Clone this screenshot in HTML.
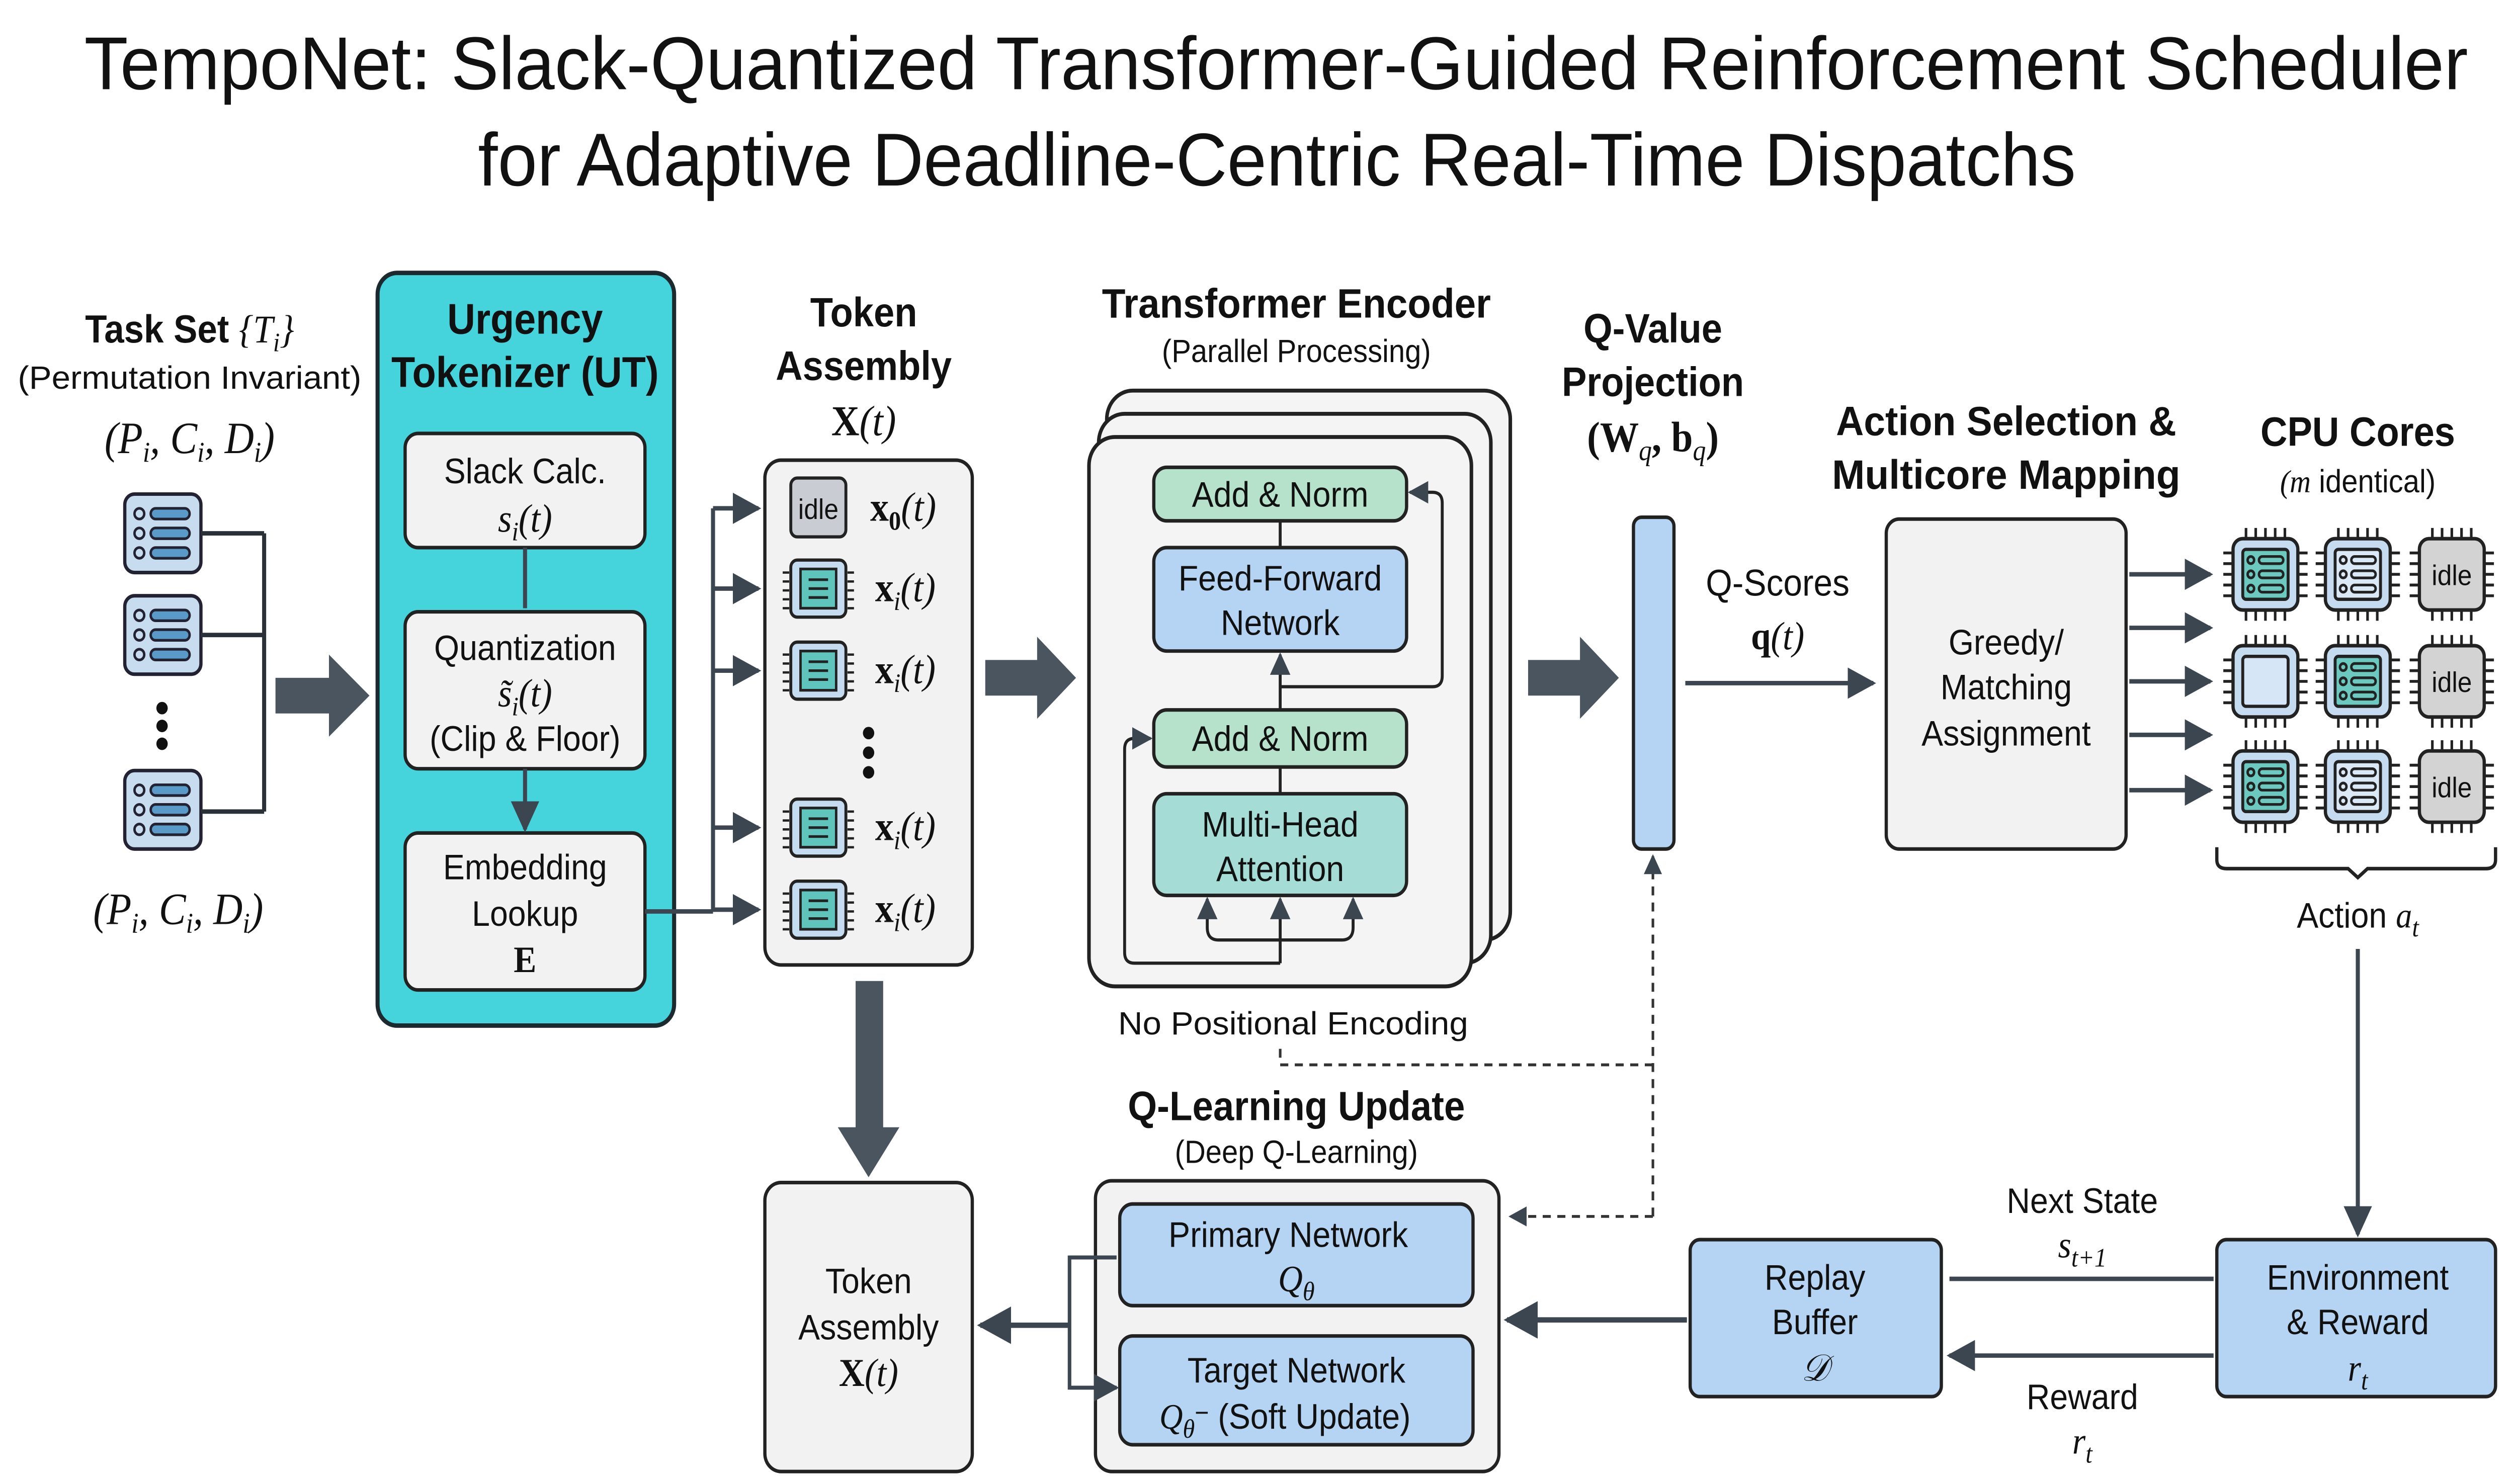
<!DOCTYPE html>
<html><head><meta charset="utf-8"><style>
html,body{margin:0;padding:0;background:#fff;width:100vw;height:100vh;overflow:hidden}
svg{display:block;position:fixed;left:0;top:0;width:100vw;height:100vh}
text{font-family:"Liberation Sans",sans-serif;fill:#111}
.b{font-weight:bold}
.m{font-family:"Liberation Serif",serif;font-style:italic}
.mb{font-family:"Liberation Serif",serif;font-weight:bold}
</style></head><body>
<svg viewBox="0 0 1552 832" preserveAspectRatio="none" xmlns="http://www.w3.org/2000/svg">
<defs>
<marker id="ahs" viewBox="0 0 10 10" refX="9" refY="5" markerWidth="7" markerHeight="7" orient="auto"><path d="M0,0L10,5L0,10z" fill="#3c4650"/></marker>
<g id="task"><rect x="0" y="0" width="47" height="44" rx="6" fill="#c8dcf0" stroke="#223" stroke-width="2"/>
<circle cx="9" cy="11" r="3" fill="none" stroke="#223" stroke-width="1.5"/><circle cx="9" cy="22" r="3" fill="none" stroke="#223" stroke-width="1.5"/><circle cx="9" cy="33" r="3" fill="none" stroke="#223" stroke-width="1.5"/>
<rect x="16" y="8" width="24" height="6" rx="3" fill="#5a9ac8" stroke="#223" stroke-width="1.5"/><rect x="16" y="19" width="24" height="6" rx="3" fill="#5a9ac8" stroke="#223" stroke-width="1.5"/><rect x="16" y="30" width="24" height="6" rx="3" fill="#5a9ac8" stroke="#223" stroke-width="1.5"/></g>
<g id="pins" stroke="#222" stroke-width="1.6">
<path d="M-12,-20v-6M-6,-20v-6M0,-20v-6M6,-20v-6M12,-20v-6M-12,20v6M-6,20v6M0,20v6M6,20v6M12,20v6M-20,-12h-6M-20,-6h-6M-20,0h-6M-20,6h-6M-20,12h-6M20,-12h6M20,-6h6M20,0h6M20,6h6M20,12h6"/></g>
<g id="lines" stroke="#222" stroke-width="1.5" fill="none"><circle cx="-9" cy="-8" r="2"/><circle cx="-9" cy="0" r="2"/><circle cx="-9" cy="8" r="2"/><rect x="-4" y="-10" width="15" height="4" rx="2"/><rect x="-4" y="-2" width="15" height="4" rx="2"/><rect x="-4" y="6" width="15" height="4" rx="2"/></g>
<g id="chipA"><use href="#pins"/><rect x="-20" y="-20" width="40" height="40" rx="6" fill="#c5dcf0" stroke="#222" stroke-width="2"/><rect x="-14" y="-14" width="28" height="28" rx="2" fill="#6cc9c0" stroke="#222" stroke-width="1.8"/><use href="#lines"/></g>
<g id="chipB"><use href="#pins"/><rect x="-20" y="-20" width="40" height="40" rx="6" fill="#c5dcf0" stroke="#222" stroke-width="2"/><rect x="-14" y="-14" width="28" height="28" rx="2" fill="#dbe8f6" stroke="#222" stroke-width="1.8"/><use href="#lines"/></g>
<g id="chipE"><use href="#pins"/><rect x="-20" y="-20" width="40" height="40" rx="6" fill="#c5dcf0" stroke="#222" stroke-width="2"/><rect x="-14" y="-14" width="28" height="28" rx="2" fill="#d6e6f6" stroke="#222" stroke-width="1.8"/></g>
<g id="chipI"><use href="#pins"/><rect x="-20" y="-20" width="40" height="40" rx="6" fill="#d3d3d3" stroke="#222" stroke-width="2"/><text x="0" y="6" text-anchor="middle" font-size="16">idle</text></g>
<g id="tok"><g stroke="#222" stroke-width="1.3"><path d="M-18,-9h-4M-18,-4h-4M-18,1h-4M-18,6h-4M-18,11h-4M18,-9h4M18,-4h4M18,1h4M18,6h4M18,11h4"/></g><rect x="-17" y="-16" width="34" height="32" rx="4" fill="#c5dcf0" stroke="#222" stroke-width="1.8"/><rect x="-11" y="-11" width="22" height="22" fill="#5fc4bc" stroke="#222" stroke-width="1.5"/><path d="M-6,-5h12M-6,0h12M-6,5h12" stroke="#222" stroke-width="1.5"/></g>
</defs>
<rect width="1552" height="832" fill="#fff"/>
<!-- title -->
<text x="52" y="50" font-size="42" textLength="1471" lengthAdjust="spacingAndGlyphs">TempoNet: Slack-Quantized Transformer-Guided Reinforcement Scheduler</text>
<text x="295" y="104" font-size="42" textLength="986" lengthAdjust="spacingAndGlyphs">for Adaptive Deadline-Centric Real-Time Dispatchs</text>

<!-- task set -->
<text x="117" y="192" text-anchor="middle" font-size="22" class="b">Task Set <tspan class="m" font-weight="normal">{T</tspan><tspan class="m" font-weight="normal" font-size="15" dy="5">i</tspan><tspan class="m" font-weight="normal" dy="-5">}</tspan></text>
<text x="117" y="218" text-anchor="middle" font-size="18" textLength="212" lengthAdjust="spacingAndGlyphs">(Permutation Invariant)</text>
<text x="117" y="254" text-anchor="middle" font-size="25" class="m">(P<tspan font-size="16" dy="5">i</tspan><tspan dy="-5">, C</tspan><tspan font-size="16" dy="5">i</tspan><tspan dy="-5">, D</tspan><tspan font-size="16" dy="5">i</tspan><tspan dy="-5">)</tspan></text>
<use href="#task" x="77" y="277"/><use href="#task" x="77" y="334"/><use href="#task" x="77" y="432"/>
<circle cx="100" cy="397" r="3.5" fill="#111"/><circle cx="100" cy="407" r="3.5" fill="#111"/><circle cx="100" cy="417" r="3.5" fill="#111"/>
<path d="M124,299H163M124,356H163M124,455H163M163,299V455" stroke="#2a3038" stroke-width="2.5" fill="none"/>
<text x="110" y="518" text-anchor="middle" font-size="25" class="m">(P<tspan font-size="16" dy="5">i</tspan><tspan dy="-5">, C</tspan><tspan font-size="16" dy="5">i</tspan><tspan dy="-5">, D</tspan><tspan font-size="16" dy="5">i</tspan><tspan dy="-5">)</tspan></text>
<!-- big arrows -->
<path d="M170,380H203V367L228,390L203,413V400H170z" fill="#4a5560"/>
<path d="M608,370H640V357L664,380L640,403V390H608z" fill="#4a5560"/>
<path d="M943,370H975V357L999,380L975,403V390H943z" fill="#4a5560"/>
<path d="M528,550H545V632H555L536,660L517,632H528z" fill="#4a5560"/>

<!-- UT -->
<rect x="233" y="153" width="183" height="422" rx="12" fill="#45d3dc" stroke="#1c2a30" stroke-width="2.5"/>
<text x="324" y="187" text-anchor="middle" font-size="24" class="b">Urgency</text>
<text x="324" y="217" text-anchor="middle" font-size="24" class="b" textLength="165" lengthAdjust="spacingAndGlyphs">Tokenizer (UT)</text>
<rect x="250" y="243" width="148" height="64" rx="8" fill="#f2f2f2" stroke="#222" stroke-width="2"/>
<text x="324" y="271" text-anchor="middle" font-size="20">Slack Calc.</text>
<text x="324" y="298" text-anchor="middle" font-size="22" class="m">s<tspan font-size="15" dy="5">i</tspan><tspan dy="-5">(t)</tspan></text>
<rect x="250" y="343" width="148" height="88" rx="8" fill="#f2f2f2" stroke="#222" stroke-width="2"/>
<text x="324" y="370" text-anchor="middle" font-size="20">Quantization</text>
<text x="324" y="396" text-anchor="middle" font-size="22" class="m">s̃<tspan font-size="15" dy="5">i</tspan><tspan dy="-5">(t)</tspan></text>
<text x="324" y="421" text-anchor="middle" font-size="20">(Clip &amp; Floor)</text>
<rect x="250" y="467" width="148" height="88" rx="8" fill="#f2f2f2" stroke="#222" stroke-width="2"/>
<text x="324" y="493" text-anchor="middle" font-size="20">Embedding</text>
<text x="324" y="519" text-anchor="middle" font-size="20">Lookup</text>
<text x="324" y="545" text-anchor="middle" font-size="21" class="mb">E</text>
<path d="M324,307V341M324,431V465" stroke="#3c4650" stroke-width="2.5" marker-end="url(#ahs)"/>
<!-- connectors to token -->
<path d="M398,511H440M440,285V511" stroke="#3c4650" stroke-width="2.5" fill="none"/>
<g stroke="#3c4650" stroke-width="2.5" marker-end="url(#ahs)"><path d="M440,285H468"/><path d="M440,330H468"/><path d="M440,376H468"/><path d="M440,464H468"/><path d="M440,510H468"/></g>

<!-- token assembly -->
<text x="533" y="183" text-anchor="middle" font-size="23" class="b">Token</text>
<text x="533" y="213" text-anchor="middle" font-size="23" class="b">Assembly</text>
<text x="533" y="244" text-anchor="middle" font-size="24" class="mb">X<tspan class="m" font-weight="normal">(t)</tspan></text>
<rect x="472" y="258" width="128" height="283" rx="10" fill="#f2f2f2" stroke="#222" stroke-width="2"/>
<rect x="488" y="268" width="34" height="33" rx="4" fill="#c9cdd3" stroke="#222" stroke-width="1.8"/>
<text x="505" y="291" text-anchor="middle" font-size="16">idle</text>
<use href="#tok" x="505" y="330"/><use href="#tok" x="505" y="376"/><use href="#tok" x="505" y="464"/><use href="#tok" x="505" y="510"/>
<g font-size="23"><text x="537" y="292" class="mb">x<tspan font-size="15" dy="5">0</tspan><tspan class="m" font-weight="normal" dy="-5">(t)</tspan></text>
<text x="540" y="337" class="mb">x<tspan class="m" font-weight="normal" font-size="15" dy="5">i</tspan><tspan class="m" font-weight="normal" dy="-5">(t)</tspan></text>
<text x="540" y="383" class="mb">x<tspan class="m" font-weight="normal" font-size="15" dy="5">i</tspan><tspan class="m" font-weight="normal" dy="-5">(t)</tspan></text>
<text x="540" y="471" class="mb">x<tspan class="m" font-weight="normal" font-size="15" dy="5">i</tspan><tspan class="m" font-weight="normal" dy="-5">(t)</tspan></text>
<text x="540" y="517" class="mb">x<tspan class="m" font-weight="normal" font-size="15" dy="5">i</tspan><tspan class="m" font-weight="normal" dy="-5">(t)</tspan></text></g>
<circle cx="536" cy="411" r="3.5" fill="#111"/><circle cx="536" cy="422" r="3.5" fill="#111"/><circle cx="536" cy="433" r="3.5" fill="#111"/>

<!-- transformer -->
<text x="800" y="178" text-anchor="middle" font-size="23" class="b" textLength="240" lengthAdjust="spacingAndGlyphs">Transformer Encoder</text>
<text x="800" y="203" text-anchor="middle" font-size="18">(Parallel Processing)</text>
<rect x="683" y="219" width="249" height="308" rx="16" fill="#f4f4f4" stroke="#222" stroke-width="2.2"/>
<rect x="678" y="232" width="242" height="308" rx="16" fill="#f4f4f4" stroke="#222" stroke-width="2.2"/>
<rect x="672" y="245" width="236" height="308" rx="16" fill="#f4f4f4" stroke="#222" stroke-width="2.2"/>
<rect x="712" y="262" width="156" height="30" rx="8" fill="#b6e2cc" stroke="#222" stroke-width="2"/>
<text x="790" y="284" text-anchor="middle" font-size="20">Add &amp; Norm</text>
<rect x="712" y="307" width="156" height="58" rx="8" fill="#b5d3f2" stroke="#222" stroke-width="2"/>
<text x="790" y="331" text-anchor="middle" font-size="20">Feed-Forward</text>
<text x="790" y="356" text-anchor="middle" font-size="20">Network</text>
<rect x="712" y="398" width="156" height="32" rx="8" fill="#b6e2cc" stroke="#222" stroke-width="2"/>
<text x="790" y="421" text-anchor="middle" font-size="20">Add &amp; Norm</text>
<rect x="712" y="445" width="156" height="57" rx="8" fill="#a5dcd6" stroke="#222" stroke-width="2"/>
<text x="790" y="469" text-anchor="middle" font-size="20">Multi-Head</text>
<text x="790" y="494" text-anchor="middle" font-size="20">Attention</text>
<g stroke="#222" stroke-width="1.8" fill="none">
<path d="M790,292V307M790,430V445"/>
<path d="M790,398V367" marker-end="url(#ahs)"/>
<path d="M790,385H884Q890,385 890,379V282Q890,276 884,276H870" marker-end="url(#ahs)"/>
<path d="M790,540H700Q694,540 694,534V420Q694,414 700,414H710" marker-end="url(#ahs)"/>
<path d="M790,540V504" marker-end="url(#ahs)"/>
<path d="M790,527H752Q745,527 745,520V504" marker-end="url(#ahs)"/>
<path d="M790,527H828Q835,527 835,520V504" marker-end="url(#ahs)"/>
</g>
<text x="798" y="580" text-anchor="middle" font-size="18" textLength="216" lengthAdjust="spacingAndGlyphs">No Positional Encoding</text>

<!-- Q projection -->
<text x="1020" y="192" text-anchor="middle" font-size="23" class="b">Q-Value</text>
<text x="1020" y="222" text-anchor="middle" font-size="23" class="b">Projection</text>
<text x="1020" y="253" text-anchor="middle" font-size="24" class="mb">(W<tspan class="m" font-weight="normal" font-size="16" dy="5">q</tspan><tspan dy="-5">, b</tspan><tspan class="m" font-weight="normal" font-size="16" dy="5">q</tspan><tspan dy="-5">)</tspan></text>
<rect x="1008" y="290" width="25" height="186" rx="5" fill="#b5d3f2" stroke="#222" stroke-width="2"/>
<text x="1097" y="334" text-anchor="middle" font-size="21">Q-Scores</text>
<text x="1097" y="364" text-anchor="middle" font-size="22" class="mb">q<tspan class="m" font-weight="normal">(t)</tspan></text>
<path d="M1040,383H1156" stroke="#3c4650" stroke-width="2.5" marker-end="url(#ahs)"/>

<!-- Action selection -->
<text x="1238" y="244" text-anchor="middle" font-size="23" class="b" textLength="210" lengthAdjust="spacingAndGlyphs">Action Selection &amp;</text>
<text x="1238" y="274" text-anchor="middle" font-size="23" class="b" textLength="215" lengthAdjust="spacingAndGlyphs">Multicore Mapping</text>
<rect x="1164" y="291" width="148" height="185" rx="8" fill="#f2f2f2" stroke="#222" stroke-width="2"/>
<text x="1238" y="367" text-anchor="middle" font-size="20">Greedy/</text>
<text x="1238" y="392" text-anchor="middle" font-size="20">Matching</text>
<text x="1238" y="418" text-anchor="middle" font-size="20">Assignment</text>
<g stroke="#3c4650" stroke-width="2.5" marker-end="url(#ahs)"><path d="M1314,322H1364"/><path d="M1314,352H1364"/><path d="M1314,382H1364"/><path d="M1314,412H1364"/><path d="M1314,443H1364"/></g>

<!-- CPU cores -->
<text x="1455" y="250" text-anchor="middle" font-size="23" class="b">CPU Cores</text>
<text x="1455" y="276" text-anchor="middle" font-size="18"><tspan class="m">(m</tspan> identical)</text>
<use href="#chipA" x="1398" y="322"/><use href="#chipB" x="1455" y="322"/><use href="#chipI" x="1513" y="322"/>
<use href="#chipE" x="1398" y="382"/><use href="#chipA" x="1455" y="382"/><use href="#chipI" x="1513" y="382"/>
<use href="#chipA" x="1398" y="441"/><use href="#chipB" x="1455" y="441"/><use href="#chipI" x="1513" y="441"/>
<path d="M1368,475V482Q1368,487 1374,487H1449L1455,492L1461,487H1534Q1540,487 1540,482V475" stroke="#222" stroke-width="2" fill="none"/>
<text x="1455" y="520" text-anchor="middle" font-size="20">Action <tspan class="m">a</tspan><tspan class="m" font-size="15" dy="5">t</tspan></text>
<path d="M1455,532V692" stroke="#3c4650" stroke-width="2.5" marker-end="url(#ahs)"/>

<!-- Env & replay -->
<rect x="1368" y="695" width="172" height="88" rx="6" fill="#b5d3f2" stroke="#222" stroke-width="2"/>
<text x="1455" y="723" text-anchor="middle" font-size="20">Environment</text>
<text x="1455" y="748" text-anchor="middle" font-size="20">&amp; Reward</text>
<text x="1455" y="774" text-anchor="middle" font-size="21" class="m">r<tspan font-size="15" dy="5">t</tspan></text>
<rect x="1043" y="695" width="155" height="88" rx="6" fill="#b5d3f2" stroke="#222" stroke-width="2"/>
<text x="1120" y="723" text-anchor="middle" font-size="20">Replay</text>
<text x="1120" y="748" text-anchor="middle" font-size="20">Buffer</text>
<text x="1120" y="774" text-anchor="middle" font-size="21" class="m">𝒟</text>
<path d="M1366,717H1203M1366,760H1203" stroke="#3c4650" stroke-width="2.5" marker-end="url(#ahs)"/>
<text x="1285" y="680" text-anchor="middle" font-size="20">Next State</text>
<text x="1285" y="705" text-anchor="middle" font-size="21" class="m">s<tspan font-size="15" dy="5">t+1</tspan></text>
<text x="1285" y="790" text-anchor="middle" font-size="20">Reward</text>
<text x="1285" y="815" text-anchor="middle" font-size="21" class="m">r<tspan font-size="15" dy="5">t</tspan></text>
<path d="M1041,740H930" stroke="#3c4650" stroke-width="3" marker-end="url(#ahs)"/>

<!-- Q-learning -->
<text x="800" y="628" text-anchor="middle" font-size="23" class="b" textLength="208" lengthAdjust="spacingAndGlyphs">Q-Learning Update</text>
<text x="800" y="652" text-anchor="middle" font-size="18">(Deep Q-Learning)</text>
<rect x="676" y="662" width="249" height="163" rx="10" fill="#f2f2f2" stroke="#222" stroke-width="2"/>
<rect x="691" y="675" width="218" height="57" rx="8" fill="#b5d3f2" stroke="#222" stroke-width="2"/>
<text x="795" y="699" text-anchor="middle" font-size="20">Primary Network</text>
<text x="800" y="724" text-anchor="middle" font-size="21" class="m">Q<tspan font-size="15" dy="5">θ</tspan></text>
<rect x="691" y="749" width="218" height="61" rx="8" fill="#b5d3f2" stroke="#222" stroke-width="2"/>
<text x="800" y="775" text-anchor="middle" font-size="20">Target Network</text>
<text x="793" y="801" text-anchor="middle" font-size="20"><tspan class="m">Q</tspan><tspan class="m" font-size="15" dy="5">θ</tspan><tspan font-size="15" dy="-9">−</tspan><tspan dy="4"> (Soft Update)</tspan></text>
<path d="M689,705H660V778H689" stroke="#3c4650" stroke-width="2.2" fill="none"/>
<path d="M660,705H689M660,778H689" stroke="#3c4650" stroke-width="2.2" marker-end="url(#ahs)"/>
<path d="M660,743H605" stroke="#3c4650" stroke-width="3" marker-end="url(#ahs)"/>
<rect x="472" y="663" width="128" height="162" rx="10" fill="#f2f2f2" stroke="#222" stroke-width="2"/>
<text x="536" y="725" text-anchor="middle" font-size="20">Token</text>
<text x="536" y="751" text-anchor="middle" font-size="20">Assembly</text>
<text x="536" y="777" text-anchor="middle" font-size="22" class="mb">X<tspan class="m" font-weight="normal">(t)</tspan></text>

<!-- dashed -->
<path d="M790,588V597H1020M1020,682V482" stroke="#333" stroke-width="1.6" stroke-dasharray="5,4" fill="none"/>
<path d="M1020,490V480" stroke="#333" stroke-width="1.6" marker-end="url(#ahs)"/>
<path d="M1020,682H932" stroke="#333" stroke-width="1.6" stroke-dasharray="5,4" marker-end="url(#ahs)"/>
</svg>
</body></html>
